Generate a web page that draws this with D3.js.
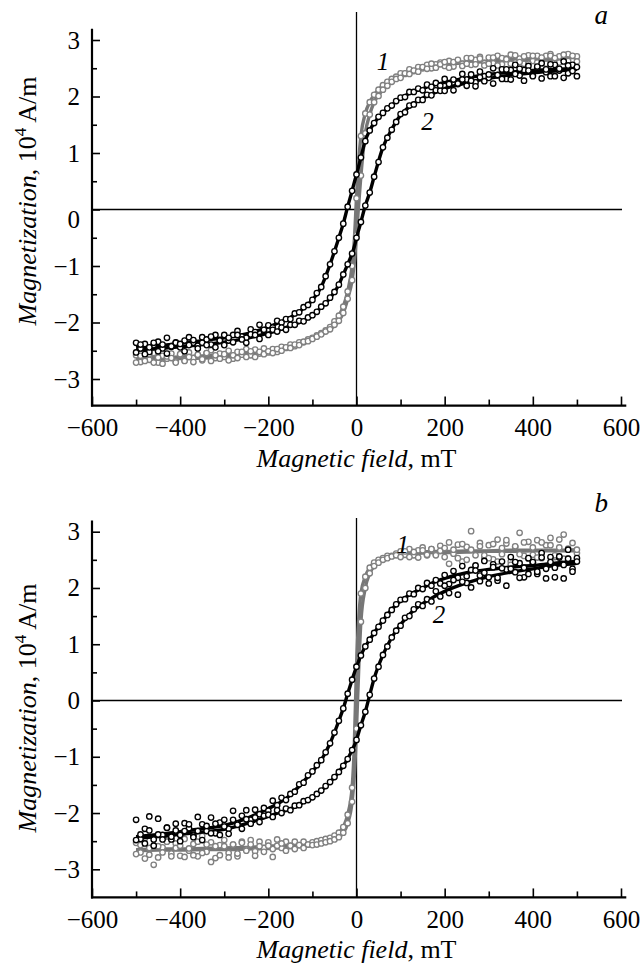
<!DOCTYPE html>
<html>
<head>
<meta charset="utf-8">
<script src="https://cdn.jsdelivr.net/npm/d3@7"></script>
<style>
  body { margin: 0; background: #fff; }
  text { font-family: "Liberation Serif", "Times New Roman", serif; }
</style>
</head>
<body>
<script>
var width = 643;
var height = 969;

// measured field values, mT
var field = [-500,-490,-480,-470,-460,-450,-440,-430,-420,-410,
  -400,-390,-380,-370,-360,-350,-340,-330,-320,-310,
  -300,-290,-280,-270,-260,-250,-240,-230,-220,-210,
  -200,-190,-180,-170,-160,-150,-140,-130,-120,-110,
  -100,-90,-80,-70,-60,-50,-40,-30,-20,-10,
  0,10,20,30,40,50,60,70,80,90,
  100,110,120,130,140,150,160,170,180,190,
  200,210,220,230,240,250,260,270,280,290,
  300,310,320,330,340,350,360,370,380,390,
  400,410,420,430,440,450,460,470,480,490,
  500];

// field values of the smooth fitted curves
var fitField = [-500,-450,-400,-350,-300,-250,-200,-175,-150,-125,-100,-80,-60,-40,-30,-20,-10,-5,
  0,5,10,20,30,40,60,80,100,125,150,175,200,250,300,350,400,450,500];

// panel a, magnetization 10^4 A/m
var aGrayDesc = [-2.58,-2.70,-2.61,-2.66,-2.54,-2.71,-2.59,-2.64,-2.55,-2.69,
  -2.57,-2.67,-2.53,-2.63,-2.58,-2.67,-2.54,-2.49,-2.63,-2.55,
  -2.61,-2.50,-2.64,-2.52,-2.57,-2.47,-2.58,-2.48,-2.55,-2.46,
  -2.53,-2.47,-2.52,-2.43,-2.45,-2.39,-2.42,-2.35,-2.35,-2.30,
  -2.27,-2.23,-2.19,-2.14,-2.08,-1.98,-1.88,-1.72,-1.45,-1.00,
  0.20,1.30,1.70,1.90,2.03,2.12,2.20,2.26,2.31,2.35,
  2.41,2.40,2.48,2.45,2.52,2.50,2.56,2.50,2.57,2.60,
  2.54,2.63,2.53,2.63,2.58,2.68,2.56,2.65,2.70,2.59,
  2.69,2.59,2.72,2.57,2.67,2.74,2.60,2.67,2.58,2.73,
  2.63,2.72,2.59,2.72,2.75,2.61,2.71,2.66,2.75,2.63,
  2.71];
var aGrayAsc = [-2.71,-2.59,-2.68,-2.56,-2.71,-2.62,-2.73,-2.60,-2.63,-2.71,
  -2.56,-2.68,-2.61,-2.70,-2.57,-2.65,-2.54,-2.68,-2.58,-2.64,
  -2.56,-2.67,-2.58,-2.63,-2.52,-2.61,-2.51,-2.61,-2.52,-2.56,
  -2.51,-2.54,-2.47,-2.50,-2.44,-2.45,-2.39,-2.40,-2.34,-2.33,
  -2.29,-2.25,-2.21,-2.16,-2.12,-2.04,-1.97,-1.83,-1.58,-1.25,
  -0.45,0.60,1.35,1.68,1.90,2.01,2.12,2.19,2.26,2.31,
  2.33,2.41,2.40,2.46,2.44,2.52,2.49,2.58,2.51,2.57,
  2.61,2.51,2.61,2.65,2.54,2.58,2.68,2.57,2.67,2.55,
  2.58,2.69,2.55,2.68,2.66,2.58,2.73,2.61,2.71,2.58,
  2.72,2.60,2.69,2.58,2.72,2.68,2.60,2.74,2.63,2.72,
  2.62];
var aBlackDesc = [-2.36,-2.46,-2.38,-2.52,-2.40,-2.34,-2.46,-2.27,-2.43,-2.35,
  -2.44,-2.32,-2.26,-2.36,-2.41,-2.26,-2.30,-2.39,-2.22,-2.31,
  -2.22,-2.32,-2.22,-2.15,-2.25,-2.27,-2.12,-2.17,-2.04,-2.15,
  -2.05,-2.09,-1.97,-2.00,-1.94,-1.94,-1.84,-1.82,-1.73,-1.69,
  -1.60,-1.48,-1.37,-1.18,-0.97,-0.74,-0.50,-0.25,0.05,0.33,
  0.62,0.92,1.21,1.40,1.53,1.64,1.71,1.79,1.84,1.92,
  1.98,1.99,2.08,2.08,2.14,2.11,2.21,2.17,2.24,2.19,
  2.31,2.22,2.30,2.22,2.40,2.30,2.39,2.25,2.44,2.36,
  2.33,2.50,2.38,2.48,2.31,2.47,2.56,2.37,2.47,2.54,
  2.37,2.51,2.59,2.43,2.36,2.56,2.46,2.62,2.41,2.56,
  2.36];
var aBlackAsc = [-2.53,-2.39,-2.56,-2.44,-2.36,-2.51,-2.39,-2.55,-2.42,-2.36,
  -2.38,-2.51,-2.40,-2.31,-2.46,-2.36,-2.40,-2.25,-2.44,-2.32,
  -2.40,-2.27,-2.35,-2.22,-2.30,-2.36,-2.21,-2.22,-2.29,-2.13,
  -2.22,-2.13,-2.16,-2.09,-2.13,-2.04,-2.04,-1.97,-1.98,-1.91,
  -1.87,-1.81,-1.72,-1.66,-1.56,-1.46,-1.33,-1.15,-0.97,-0.78,
  -0.50,-0.22,0.07,0.30,0.58,0.84,1.10,1.27,1.41,1.55,
  1.69,1.72,1.84,1.86,1.94,1.94,2.03,2.02,2.11,2.10,
  2.10,2.22,2.11,2.23,2.30,2.19,2.28,2.18,2.34,2.27,
  2.39,2.23,2.38,2.31,2.48,2.30,2.40,2.49,2.28,2.46,
  2.36,2.53,2.32,2.48,2.57,2.36,2.49,2.33,2.55,2.45,
  2.52];

var aGrayDescFit = [-2.63,-2.62,-2.61,-2.59,-2.57,-2.54,-2.50,-2.47,-2.42,-2.36,-2.27,-2.19,-2.08,-1.88,-1.72,-1.45,-1.00,-0.55,
  0.20,0.85,1.30,1.70,1.90,2.03,2.20,2.31,2.39,2.46,2.51,2.54,2.57,2.61,2.63,2.65,2.66,2.67,2.68];
var aGrayAscFit = [-2.66,-2.65,-2.64,-2.63,-2.61,-2.58,-2.53,-2.49,-2.44,-2.37,-2.29,-2.21,-2.12,-1.97,-1.83,-1.58,-1.25,-0.95,
  -0.45,0.10,0.60,1.35,1.68,1.90,2.12,2.26,2.35,2.43,2.49,2.53,2.56,2.60,2.62,2.64,2.65,2.66,2.67];
var aBlackDescFit = [-2.44,-2.41,-2.37,-2.32,-2.27,-2.20,-2.08,-2.00,-1.91,-1.78,-1.60,-1.37,-0.97,-0.50,-0.25,0.05,0.33,0.48,
  0.62,0.77,0.92,1.22,1.40,1.53,1.71,1.85,1.97,2.07,2.14,2.20,2.25,2.33,2.39,2.43,2.46,2.48,2.50];
var aBlackAscFit = [-2.49,-2.46,-2.43,-2.39,-2.35,-2.28,-2.19,-2.13,-2.06,-1.98,-1.88,-1.73,-1.57,-1.33,-1.15,-0.97,-0.78,-0.66,
  -0.50,-0.36,-0.22,0.07,0.30,0.58,1.10,1.42,1.67,1.85,1.97,2.06,2.14,2.24,2.32,2.38,2.42,2.45,2.48];

// panel b
var bGrayDesc = [-2.53,-2.70,-2.45,-2.74,-2.58,-2.79,-2.61,-2.50,-2.72,-2.54,
  -2.76,-2.46,-2.67,-2.55,-2.77,-2.41,-2.69,-2.52,-2.80,-2.57,
  -2.48,-2.71,-2.56,-2.77,-2.51,-2.65,-2.48,-2.68,-2.51,-2.62,
  -2.52,-2.64,-2.47,-2.62,-2.51,-2.59,-2.51,-2.57,-2.51,-2.56,
  -2.52,-2.50,-2.48,-2.46,-2.44,-2.40,-2.35,-2.25,-2.03,-1.55,
  0.60,1.90,2.20,2.36,2.45,2.50,2.53,2.57,2.57,2.61,
  2.65,2.59,2.69,2.58,2.67,2.72,2.58,2.69,2.60,2.75,
  2.55,2.81,2.61,2.77,2.47,2.73,3.01,2.58,2.80,2.54,
  2.76,2.51,2.86,2.60,2.79,2.47,2.73,2.98,2.57,2.82,
  2.59,2.85,2.53,2.76,2.89,2.55,2.72,2.95,2.52,2.80,
  2.62];
var bGrayAsc = [-2.73,-2.57,-2.81,-2.62,-2.92,-2.59,-2.70,-2.51,-2.77,-2.62,
  -2.58,-2.78,-2.63,-2.75,-2.51,-2.71,-2.56,-2.87,-2.59,-2.75,
  -2.59,-2.79,-2.56,-2.72,-2.53,-2.67,-2.56,-2.76,-2.59,-2.69,
  -2.58,-2.78,-2.58,-2.54,-2.67,-2.58,-2.64,-2.57,-2.62,-2.56,
  -2.57,-2.56,-2.54,-2.52,-2.50,-2.47,-2.43,-2.35,-2.18,-1.80,
  -0.50,1.40,2.00,2.26,2.39,2.45,2.50,2.53,2.56,2.58,
  2.55,2.65,2.55,2.64,2.54,2.67,2.59,2.69,2.58,2.66,
  2.71,2.43,2.68,2.53,2.78,2.50,2.68,2.39,2.74,2.58,
  2.53,2.78,2.47,2.71,2.85,2.41,2.74,2.60,2.81,2.52,
  2.72,2.54,2.81,2.36,2.76,2.58,2.86,2.52,2.70,2.44,
  2.68];
var bBlackDesc = [-2.12,-2.46,-2.28,-2.06,-2.47,-2.10,-2.39,-2.26,-2.47,-2.19,
  -2.39,-2.18,-2.27,-2.40,-2.07,-2.20,-2.32,-2.08,-2.36,-2.17,
  -2.12,-2.28,-1.96,-2.19,-2.05,-1.95,-2.12,-1.94,-2.02,-1.91,
  -1.96,-1.78,-1.86,-1.73,-1.77,-1.66,-1.62,-1.49,-1.46,-1.33,
  -1.26,-1.15,-1.06,-0.92,-0.76,-0.57,-0.36,-0.14,0.12,0.37,
  0.60,0.80,0.96,1.08,1.20,1.31,1.42,1.52,1.61,1.71,
  1.79,1.80,1.90,1.89,2.00,1.98,2.09,2.04,2.14,2.08,
  2.23,2.07,2.30,2.18,2.39,2.09,2.32,2.40,2.22,2.48,
  2.19,2.42,2.13,2.47,2.33,2.55,2.28,2.44,2.19,2.53,
  2.45,2.25,2.62,2.34,2.55,2.19,2.54,2.41,2.68,2.34,
  2.53];
var bBlackAsc = [-2.48,-2.38,-2.54,-2.31,-2.58,-2.38,-2.47,-2.26,-2.42,-2.31,
  -2.50,-2.32,-2.20,-2.43,-2.32,-2.48,-2.23,-2.36,-2.19,-2.39,
  -2.24,-2.37,-2.12,-2.21,-2.28,-2.11,-2.19,-2.08,-2.16,-2.05,
  -2.03,-2.07,-1.95,-2.00,-1.92,-1.95,-1.87,-1.86,-1.79,-1.77,
  -1.72,-1.66,-1.60,-1.52,-1.45,-1.36,-1.27,-1.16,-1.04,-0.88,
  -0.70,-0.44,-0.20,0.10,0.39,0.60,0.81,0.96,1.12,1.24,
  1.33,1.47,1.50,1.62,1.71,1.68,1.80,1.76,1.94,1.85,
  2.04,1.91,2.14,1.88,2.11,2.21,2.01,2.31,2.12,2.27,
  2.08,2.37,2.18,2.35,2.04,2.34,2.46,2.18,2.36,2.25,
  2.46,2.29,2.54,2.17,2.46,2.36,2.56,2.17,2.52,2.29,
  2.47];

var bGrayDescFit = [-2.65,-2.64,-2.64,-2.63,-2.62,-2.61,-2.59,-2.58,-2.56,-2.55,-2.53,-2.49,-2.44,-2.35,-2.25,-2.03,-1.55,-0.80,
  0.60,1.45,1.90,2.20,2.36,2.45,2.54,2.58,2.61,2.63,2.64,2.65,2.65,2.66,2.66,2.67,2.67,2.67,2.68];
var bGrayAscFit = [-2.67,-2.66,-2.66,-2.65,-2.65,-2.64,-2.63,-2.62,-2.61,-2.59,-2.57,-2.54,-2.50,-2.43,-2.35,-2.18,-1.80,-1.35,
  -0.50,0.55,1.40,2.00,2.26,2.39,2.50,2.56,2.59,2.61,2.62,2.63,2.63,2.64,2.65,2.65,2.66,2.66,2.66];
var bBlackDescFit = [-2.42,-2.38,-2.33,-2.28,-2.22,-2.10,-1.92,-1.82,-1.68,-1.48,-1.26,-1.06,-0.76,-0.36,-0.14,0.12,0.37,0.49,
  0.60,0.70,0.80,0.96,1.08,1.20,1.42,1.62,1.77,1.90,2.00,2.10,2.17,2.27,2.33,2.37,2.40,2.44,2.47];
var bBlackAscFit = [-2.45,-2.42,-2.38,-2.34,-2.29,-2.19,-2.06,-1.99,-1.93,-1.83,-1.72,-1.60,-1.45,-1.27,-1.16,-1.04,-0.88,-0.80,
  -0.70,-0.57,-0.44,-0.20,0.10,0.39,0.81,1.12,1.35,1.57,1.72,1.84,1.94,2.09,2.20,2.28,2.34,2.40,2.44];

var xTicks = [-600, -400, -200, 0, 200, 400, 600];
var xMinorTicks = [-500, -300, -100, 100, 300, 500];
var yTicks = [-3, -2, -1, 0, 1, 2, 3];
var yMinorTicks = [-2.5, -1.5, -0.5, 0.5, 1.5, 2.5];

var gray = "#808080";
var grayLine = "#777";
var serif = "'Liberation Serif', 'Times New Roman', serif";

var svg = d3.select("body")
            .append("svg")
            .attr("width", width)
            .attr("height", height);

var x = d3.scaleLinear()
          .domain([-600, 600])
          .range([92, 621]);

var panels = [
  { letter: "a", y3: 40, yMinus3: 379, top: 3.2, bottom: -3.47, zeroLineTop: 12, zeroShift: 10,
    xTitleY: 467, yTitleY: 201, letterPos: [555, 3.28], label1: [60, 2.47], label2: [161, 1.41],
    loops: [
      { desc: aGrayDesc, asc: aGrayAsc, descFit: aGrayDescFit, ascFit: aGrayAscFit, color: gray, lineColor: grayLine },
      { desc: aBlackDesc, asc: aBlackAsc, descFit: aBlackDescFit, ascFit: aBlackAscFit, color: "#000", lineColor: "#000" }
    ] },
  { letter: "b", y3: 531.7, yMinus3: 869.3, top: 3.2, bottom: -3.5, zeroLineTop: 518, zeroShift: 0,
    xTitleY: 958, yTitleY: 708, letterPos: [555, 3.35], label1: [105, 2.62], label2: [187, 1.38],
    loops: [
      { desc: bGrayDesc, asc: bGrayAsc, descFit: bGrayDescFit, ascFit: bGrayAscFit, color: gray, lineColor: grayLine },
      { desc: bBlackDesc, asc: bBlackAsc, descFit: bBlackDescFit, ascFit: bBlackAscFit, color: "#000", lineColor: "#000" }
    ] }
];

panels.forEach(function(p) {
  var y = d3.scaleLinear()
            .domain([-3, 3])
            .range([p.yMinus3, p.y3]);
  var g = svg.append("g");
  var yBottom = y(p.bottom);

  // zero lines
  g.append("line")
   .attr("x1", x(-600)).attr("x2", x(600) + 1)
   .attr("y1", y(0)).attr("y2", y(0))
   .attr("stroke", "#000").attr("stroke-width", 1.3);
  g.append("line")
   .attr("x1", x(0)).attr("x2", x(0))
   .attr("y1", p.zeroLineTop).attr("y2", yBottom)
   .attr("stroke", "#000").attr("stroke-width", 1.3);

  var line = d3.line()
               .x(function(d) { return x(d[0]); })
               .y(function(d) { return y(d[1]); })
               .curve(d3.curveMonotoneX);

  p.loops.forEach(function(loop) {
    [loop.descFit, loop.ascFit].forEach(function(fit) {
      g.append("path")
       .datum(d3.zip(fitField, fit))
       .attr("d", line)
       .attr("fill", "none")
       .attr("stroke", loop.lineColor)
       .attr("stroke-width", 3.4);
    });
    [loop.desc, loop.asc].forEach(function(vals) {
      g.append("g")
       .selectAll("circle")
       .data(d3.zip(field, vals))
       .enter()
       .append("circle")
       .attr("cx", function(d) { return x(d[0]); })
       .attr("cy", function(d) { return y(d[1]); })
       .attr("r", 2.7)
       .attr("fill", "#fff")
       .attr("stroke", loop.color)
       .attr("stroke-width", 1.35);
    });
  });

  // axes, ticks pointing inward
  var yAxis = g.append("g")
     .attr("transform", "translate(" + x(-600) + ",0)")
     .call(d3.axisLeft(y).tickValues(yTicks).tickSize(-8).tickPadding(12).tickFormat(d3.format("d")));
  g.append("g")
   .attr("transform", "translate(" + x(-600) + ",0)")
   .call(d3.axisLeft(y).tickValues(yMinorTicks).tickSize(-5).tickFormat(""));
  g.append("g")
   .attr("transform", "translate(0," + yBottom + ")")
   .call(d3.axisBottom(x).tickValues(xTicks).tickSize(-9).tickPadding(13).tickFormat(d3.format("d")));
  g.append("g")
   .attr("transform", "translate(0," + yBottom + ")")
   .call(d3.axisBottom(x).tickValues(xMinorTicks).tickSize(-6).tickFormat(""));

  g.selectAll(".domain").remove();
  g.selectAll(".tick line").attr("stroke", "#000").attr("stroke-width", 1.6);
  g.selectAll(".tick text")
   .style("font-family", serif)
   .style("font-size", "25px")
   .attr("fill", "#000");
  yAxis.selectAll(".tick text")
       .filter(function(d) { return d === 0; })
       .attr("y", p.zeroShift);

  g.append("line")
   .attr("x1", x(-600)).attr("x2", x(-600))
   .attr("y1", y(p.top)).attr("y2", yBottom + 1)
   .attr("stroke", "#000").attr("stroke-width", 2.2);
  g.append("line")
   .attr("x1", x(-600) - 1).attr("x2", x(612))
   .attr("y1", yBottom).attr("y2", yBottom)
   .attr("stroke", "#000").attr("stroke-width", 2.2);

  // titles
  var xt = g.append("text")
            .attr("x", x(0))
            .attr("y", p.xTitleY)
            .attr("text-anchor", "middle")
            .attr("font-size", "26px");
  xt.append("tspan").attr("font-style", "italic").text("Magnetic field");
  xt.append("tspan").text(", mT");

  var yt = g.append("text")
            .attr("transform", "translate(36," + p.yTitleY + ") rotate(-90)")
            .attr("text-anchor", "middle")
            .attr("font-size", "26px");
  yt.append("tspan").attr("font-style", "italic").text("Magnetization");
  yt.append("tspan").text(", 10");
  yt.append("tspan").attr("font-size", "17px").attr("dy", "-10").text("4");
  yt.append("tspan").attr("dy", "10").text(" A/m");

  g.append("text")
   .attr("x", x(p.letterPos[0]))
   .attr("y", y(p.letterPos[1]))
   .attr("text-anchor", "middle")
   .attr("font-style", "italic")
   .attr("font-size", "27px")
   .text(p.letter);

  [[p.label1, "1"], [p.label2, "2"]].forEach(function(l) {
    g.append("text")
     .attr("x", x(l[0][0]))
     .attr("y", y(l[0][1]))
     .attr("text-anchor", "middle")
     .attr("font-style", "italic")
     .attr("font-size", "25px")
     .text(l[1]);
  });
});
</script>
</body>
</html>
